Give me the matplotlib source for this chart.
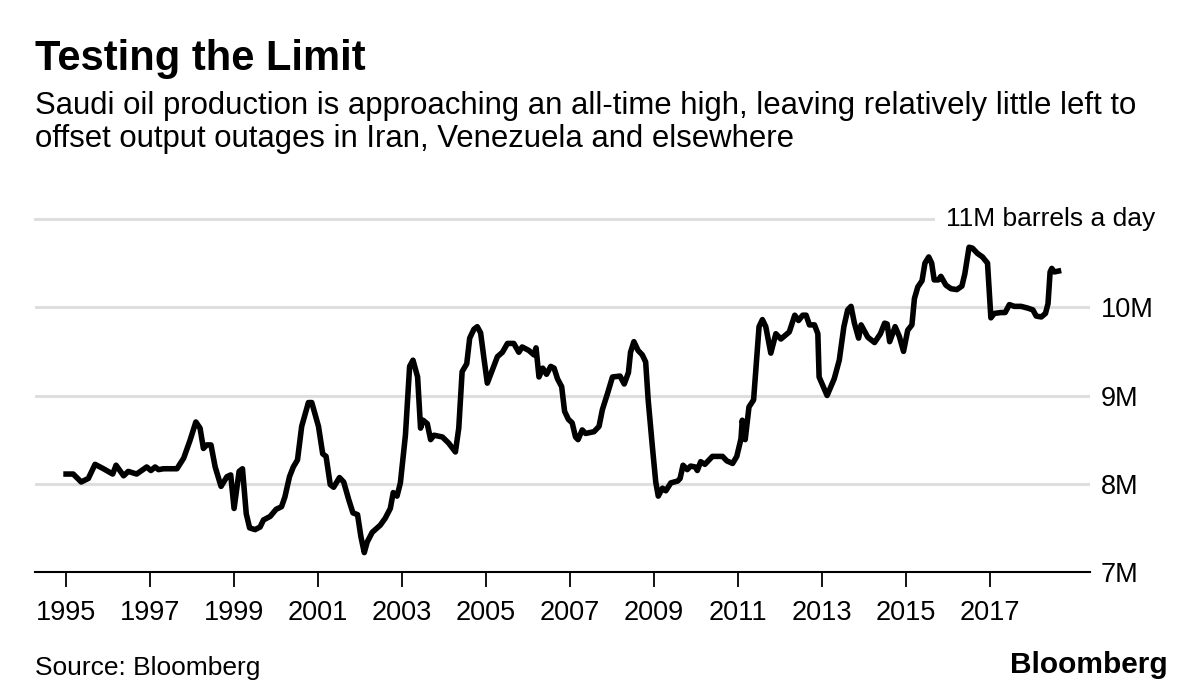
import numpy as np
import matplotlib.pyplot as plt

plt.rcParams['font.family'] = ['Liberation Sans', 'DejaVu Sans']

# Saudi crude output, million barrels a day
years = [1995.00, 1995.17, 1995.36, 1995.53, 1995.69, 1995.89, 1996.11, 1996.19, 1996.37, 1996.48,
         1996.68, 1996.92, 1997.02, 1997.12, 1997.20, 1997.32, 1997.64, 1997.80, 1997.95, 1998.09,
         1998.19, 1998.27, 1998.35, 1998.45, 1998.55, 1998.69, 1998.83, 1998.92, 1999.00, 1999.12,
         1999.20, 1999.29, 1999.37, 1999.50, 1999.62, 1999.70, 1999.86, 2000.00, 2000.13, 2000.21,
         2000.32, 2000.41, 2000.51, 2000.61, 2000.77, 2000.85, 2001.01, 2001.11, 2001.19, 2001.29,
         2001.37, 2001.51, 2001.61, 2001.73, 2001.83, 2001.94, 2002.02, 2002.10, 2002.17, 2002.29,
         2002.48, 2002.60, 2002.72, 2002.79, 2002.88, 2002.96, 2003.08, 2003.18, 2003.26, 2003.37,
         2003.44, 2003.50, 2003.60, 2003.68, 2003.76, 2003.96, 2004.11, 2004.27, 2004.35, 2004.43,
         2004.54, 2004.61, 2004.71, 2004.79, 2004.87, 2004.95, 2005.03, 2005.15, 2005.27, 2005.39,
         2005.51, 2005.66, 2005.78, 2005.86, 2006.02, 2006.14, 2006.19, 2006.26, 2006.35, 2006.44,
         2006.54, 2006.62, 2006.70, 2006.80, 2006.87, 2006.96, 2007.05, 2007.13, 2007.19, 2007.29,
         2007.37, 2007.57, 2007.69, 2007.77, 2007.89, 2008.01, 2008.19, 2008.29, 2008.39, 2008.44,
         2008.52, 2008.62, 2008.72, 2008.80, 2008.86, 2008.96, 2009.04, 2009.10, 2009.20, 2009.28,
         2009.40, 2009.56, 2009.62, 2009.69, 2009.79, 2009.87, 2009.98, 2010.03, 2010.11, 2010.21,
         2010.39, 2010.63, 2010.73, 2010.87, 2010.97, 2011.07, 2011.10, 2011.17, 2011.26, 2011.37,
         2011.44, 2011.50, 2011.58, 2011.66, 2011.78, 2011.90, 2012.02, 2012.22, 2012.35, 2012.44,
         2012.54, 2012.62, 2012.70, 2012.82, 2012.90, 2012.93, 2013.12, 2013.29, 2013.41, 2013.52,
         2013.61, 2013.69, 2013.77, 2013.87, 2013.93, 2014.09, 2014.25, 2014.39, 2014.49, 2014.55,
         2014.61, 2014.74, 2014.84, 2014.94, 2015.04, 2015.14, 2015.20, 2015.28, 2015.38, 2015.45,
         2015.54, 2015.61, 2015.67, 2015.77, 2015.83, 2015.95, 2016.07, 2016.21, 2016.33, 2016.40,
         2016.50, 2016.58, 2016.70, 2016.82, 2016.94, 2017.02, 2017.10, 2017.26, 2017.36, 2017.46,
         2017.58, 2017.74, 2017.90, 2018.02, 2018.10, 2018.22, 2018.32, 2018.38, 2018.43, 2018.47,
         2018.53, 2018.63]
output = [8.11, 8.11, 8.02, 8.06, 8.22, 8.17, 8.11, 8.21, 8.09, 8.14,
          8.11, 8.19, 8.15, 8.19, 8.16, 8.17, 8.17, 8.29, 8.49, 8.70,
          8.63, 8.40, 8.44, 8.44, 8.19, 7.97, 8.08, 8.10, 7.72, 8.14,
          8.17, 7.66, 7.50, 7.48, 7.51, 7.59, 7.63, 7.71, 7.74, 7.85,
          8.08, 8.19, 8.27, 8.65, 8.92, 8.92, 8.65, 8.34, 8.31, 7.99,
          7.96, 8.07, 8.02, 7.82, 7.67, 7.65, 7.40, 7.22, 7.34, 7.45,
          7.53, 7.61, 7.72, 7.90, 7.86, 8.01, 8.55, 9.33, 9.40, 9.21,
          8.63, 8.72, 8.68, 8.50, 8.55, 8.53, 8.46, 8.36, 8.63, 9.27,
          9.36, 9.65, 9.75, 9.78, 9.71, 9.42, 9.14, 9.29, 9.44, 9.49,
          9.59, 9.59, 9.49, 9.55, 9.51, 9.46, 9.54, 9.21, 9.31, 9.24,
          9.33, 9.31, 9.19, 9.10, 8.82, 8.73, 8.69, 8.53, 8.50, 8.61,
          8.57, 8.59, 8.65, 8.84, 9.02, 9.21, 9.22, 9.13, 9.26, 9.49,
          9.61, 9.51, 9.46, 9.38, 8.95, 8.42, 8.02, 7.86, 7.95, 7.92,
          8.01, 8.03, 8.06, 8.21, 8.16, 8.20, 8.19, 8.15, 8.25, 8.22,
          8.31, 8.31, 8.26, 8.23, 8.31, 8.51, 8.72, 8.50, 8.87, 8.95,
          9.40, 9.78, 9.86, 9.78, 9.48, 9.70, 9.64, 9.72, 9.91, 9.85,
          9.91, 9.91, 9.80, 9.80, 9.70, 9.21, 9.00, 9.19, 9.40, 9.78,
          9.97, 10.01, 9.82, 9.65, 9.80, 9.66, 9.60, 9.70, 9.82, 9.81,
          9.61, 9.78, 9.67, 9.50, 9.74, 9.80, 10.10, 10.23, 10.30, 10.50,
          10.57, 10.50, 10.31, 10.31, 10.35, 10.25, 10.21, 10.20, 10.24, 10.38,
          10.68, 10.67, 10.61, 10.57, 10.50, 9.88, 9.93, 9.94, 9.94, 10.03,
          10.01, 10.01, 9.99, 9.97, 9.90, 9.89, 9.93, 10.04, 10.40, 10.44,
          10.40, 10.41]

year_ticks = list(range(1995, 2018, 2))
y_ticks = [7, 8, 9, 10]
y_labels = ['7M', '8M', '9M', '10M']

W, H = 1200, 698
fig = plt.figure(figsize=(W / 100, H / 100), dpi=100)
ax = fig.add_axes([35 / W, 1 - 572 / H, (1090 - 35) / W, (572 - 219) / H])

ax.set_xlim(1994.26, 2019.38)
ax.set_ylim(7, 11)

# gridlines (top one stops short of its label)
for v in [8, 9, 10]:
    ax.axhline(v, color='#dedede', lw=2.2, zorder=1)
ax.axhline(11, xmax=0.851, color='#dedede', lw=2.2, zorder=1, clip_on=False)

ax.plot(years, output, color='black', lw=4.0, solid_joinstyle='round', zorder=3)

for s in ['top', 'right', 'left']:
    ax.spines[s].set_visible(False)
ax.spines['bottom'].set_linewidth(1.5)
ax.spines['bottom'].set_zorder(2)

ax.set_xticks(year_ticks)
ax.set_xticklabels([str(y) for y in year_ticks], fontsize=19.5)
ax.tick_params(axis='x', length=11, width=1.3, pad=9, direction='out')

ax.yaxis.tick_right()
ax.set_yticks(y_ticks)
ax.set_yticklabels(y_labels, fontsize=19.5)
ax.tick_params(axis='y', length=0, pad=8)

fig.text(1155 / W, 1 - 219 / H, '11M barrels a day', fontsize=19, ha='right', va='center')

fig.text(35 / W, 1 - 70 / H, 'Testing the Limit', fontsize=30, fontweight='bold', va='baseline')
fig.text(35 / W, 1 - 114 / H, 'Saudi oil production is approaching an all-time high, leaving relatively little left to',
         fontsize=22.4, va='baseline')
fig.text(35 / W, 1 - 147 / H, 'offset output outages in Iran, Venezuela and elsewhere', fontsize=22.4, va='baseline')

fig.text(35 / W, 1 - 675 / H, 'Source: Bloomberg', fontsize=19, va='baseline')
fig.text(1168 / W, 1 - 673 / H, 'Bloomberg', fontsize=21.5, fontweight='bold', ha='right', va='baseline')

fig.savefig('out.png', dpi=100, facecolor='white')
